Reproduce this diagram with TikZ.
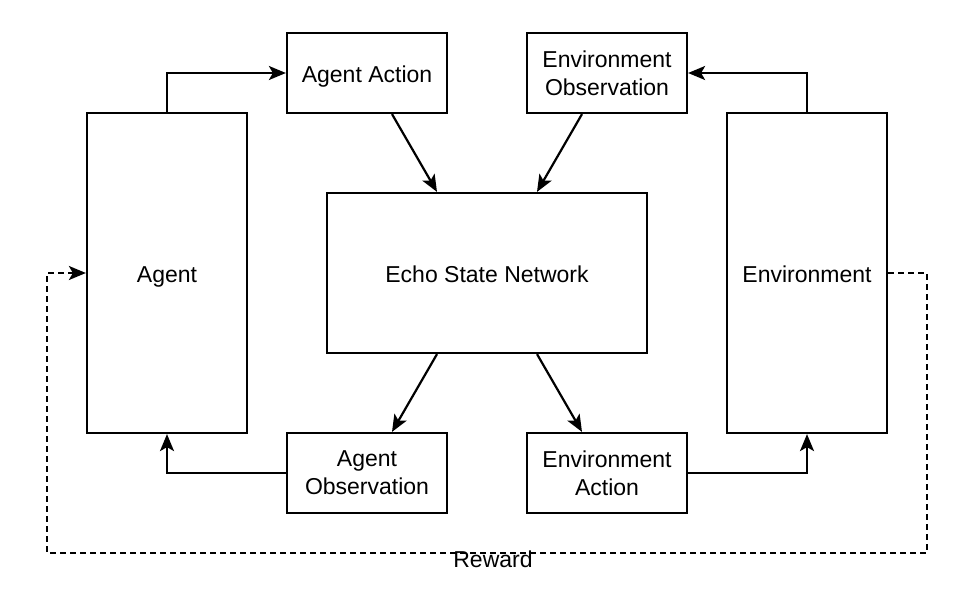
\documentclass[tikz,border=0pt]{standalone}
\usepackage{fontspec}
\setmainfont{Liberation Sans}
\usetikzlibrary{arrows.meta,positioning}

\begin{document}
\begin{tikzpicture}[x=1pt,y=-1pt,
  box/.style={draw,line width=2.2pt,align=center,minimum width=160pt,minimum height=80pt,inner sep=0pt,font=\fontsize{23}{28}\selectfont},
  oneline/.style={text height=22pt,text depth=4pt},
  arr/.style={line width=2.2pt,-{Stealth[length=17pt,width=14pt,inset=4pt]}},
  rewardline/.style={arr,dash pattern=on 6pt off 4pt}]
\useasboundingbox (0,0) rectangle (976,602);

\node[box,oneline,minimum height=320pt] (agent) at (167,273) {Agent};
\node[box,oneline,minimum height=320pt] (env) at (807,273) {Environment};
\node[box,oneline,minimum width=320pt,minimum height=160pt] (esn) at (487,273) {Echo State Network};
\node[box,oneline] (aact) at (367,73) {Agent Action};
\node[box] (eobs) at (607,73) {Environment\\Observation};
\node[box] (aobs) at (367,473) {Agent\\Observation};
\node[box] (eact) at (607,473) {Environment\\Action};

\coordinate (rr) at (927,553);
\coordinate (rl) at (47,553);

\draw[arr] (agent.north) |- (aact.west);
\draw[arr] (env.north) |- (eobs.east);
\draw[arr] ([xshift=25pt]aact.south) -- ([xshift=-50pt]esn.north);
\draw[arr] ([xshift=-25pt]eobs.south) -- ([xshift=50pt]esn.north);
\draw[arr] ([xshift=-50pt]esn.south) -- ([xshift=25pt]aobs.north);
\draw[arr] ([xshift=50pt]esn.south) -- ([xshift=-25pt]eact.north);
\draw[arr] (aobs.west) -| (agent.south);
\draw[arr] (eact.east) -| (env.south);

% reward loop
\draw[rewardline] (env.east) -| (rr) -- (rl) |- (agent.west);
\node[font=\fontsize{23}{28}\selectfont,oneline,inner sep=0pt] (reward) at (493,558) {Reward};
\end{tikzpicture}
\end{document}
